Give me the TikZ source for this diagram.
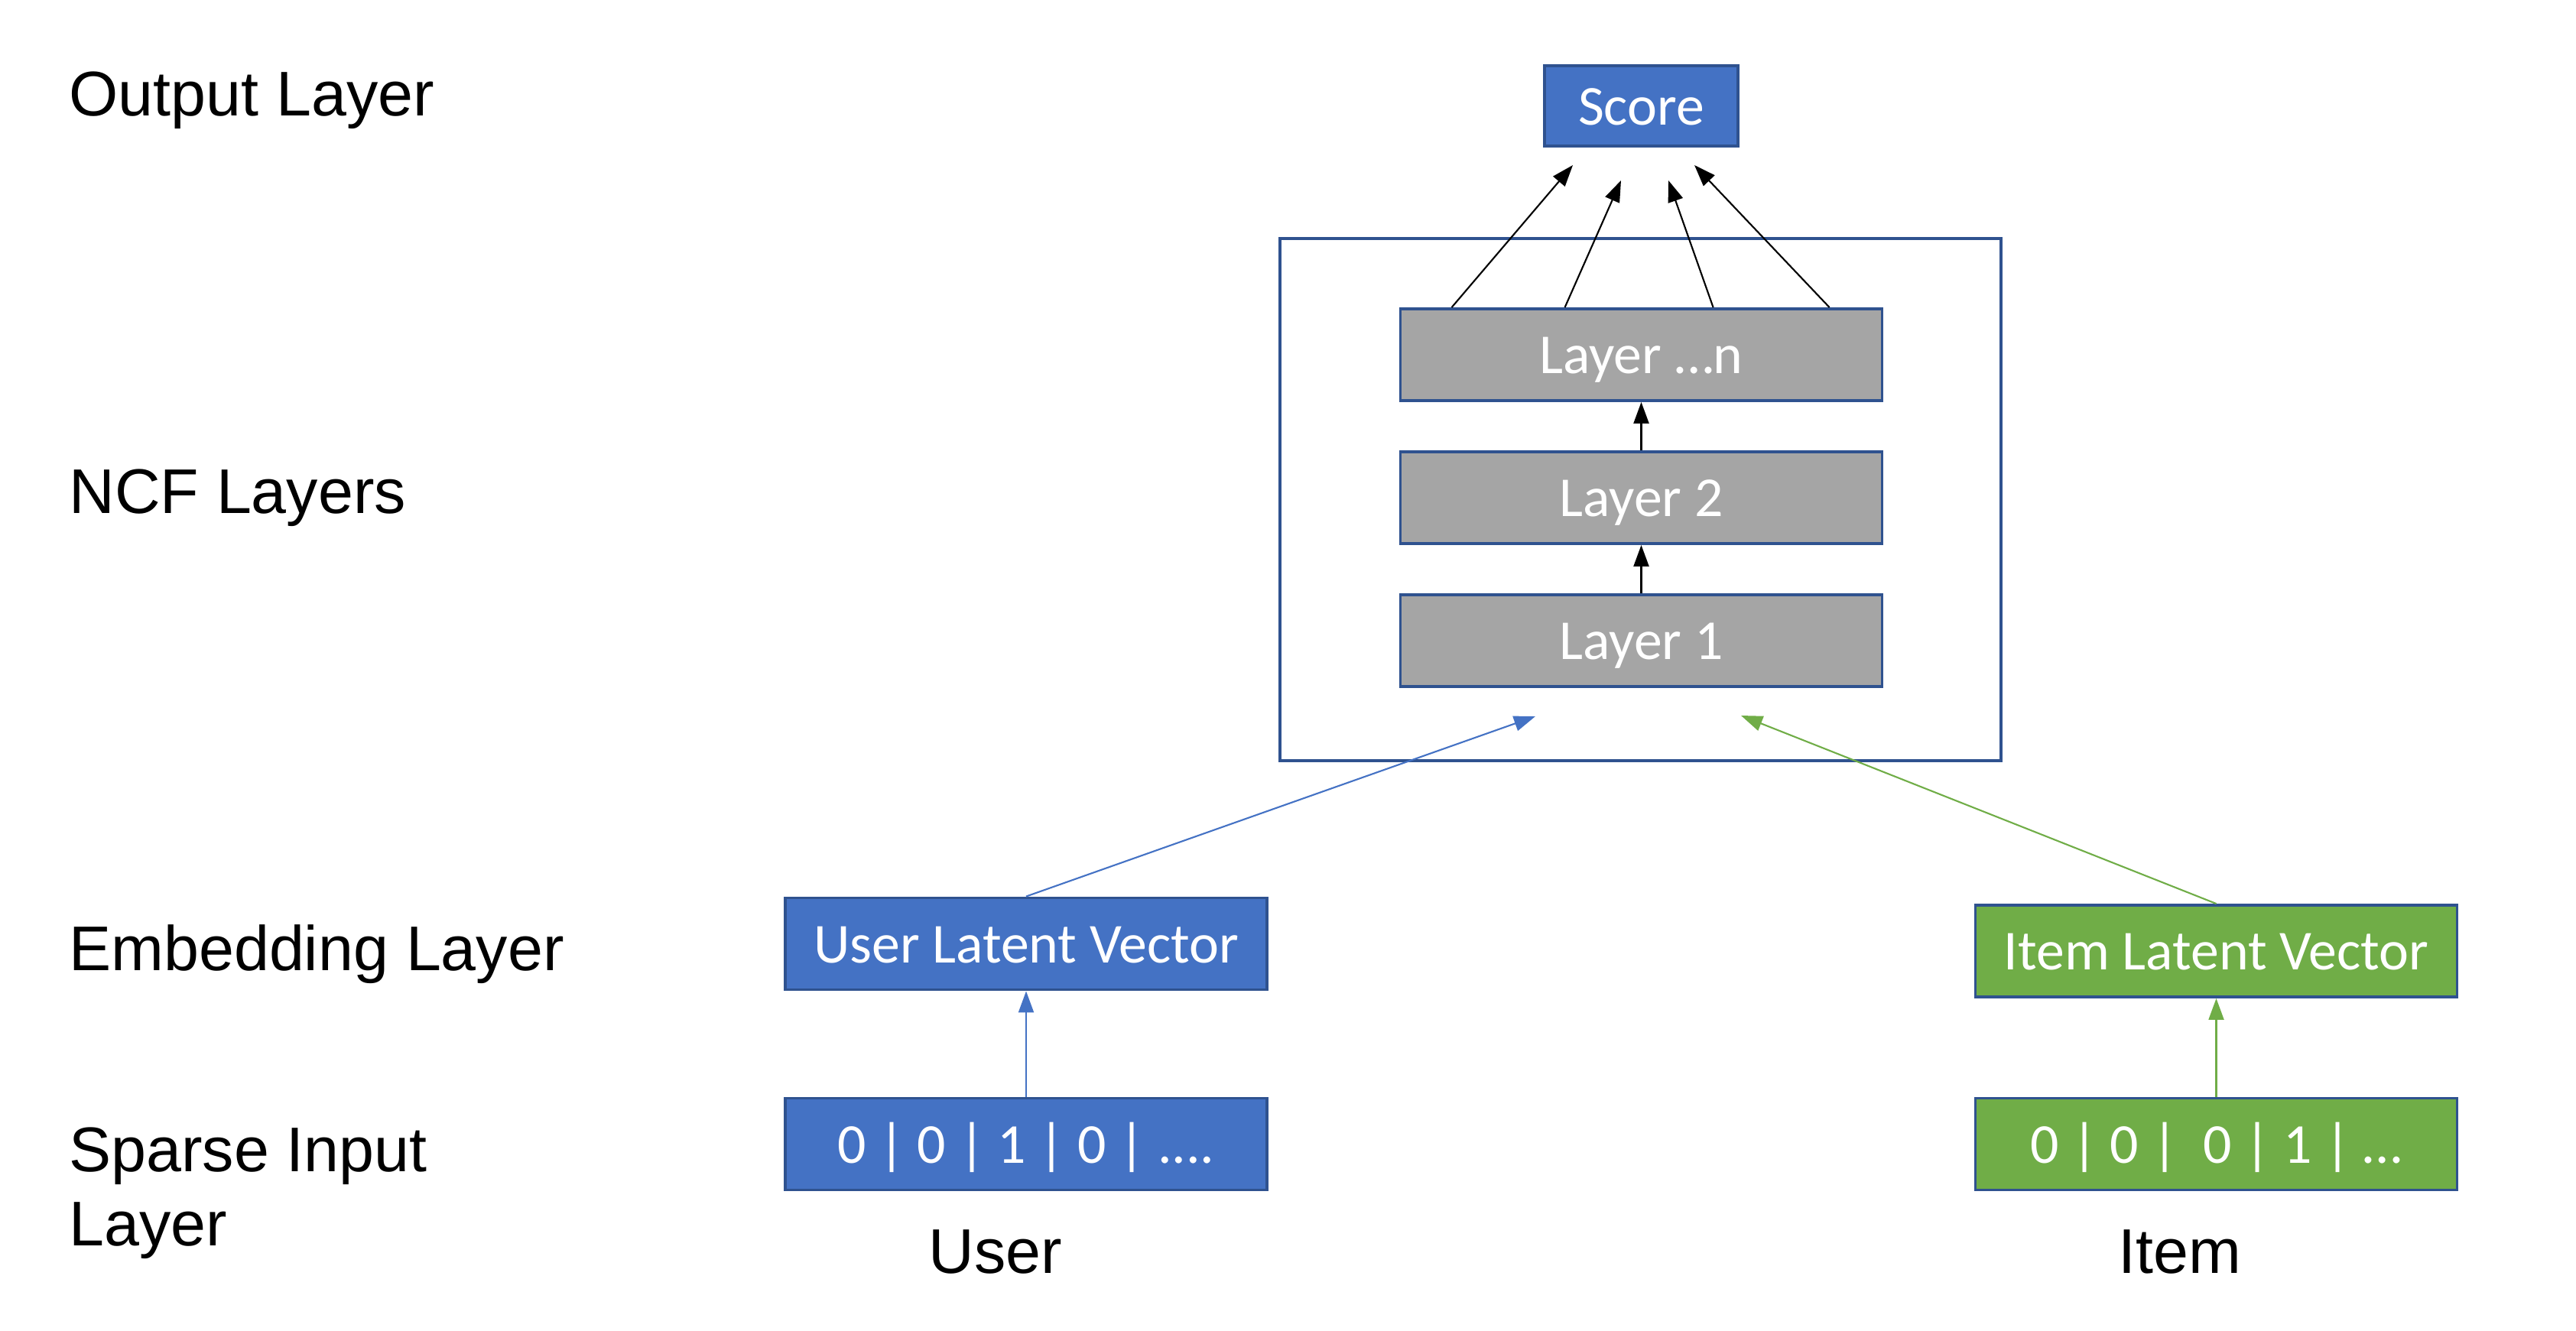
\documentclass[tikz,border=0pt]{standalone}
\usepackage{xcolor}
\usepackage{fontspec}
\usepackage{tikz}
\usetikzlibrary{arrows.meta, positioning}
\setmainfont{Liberation Sans}
\newfontfamily\boxfont{Carlito}
\definecolor{ncfblue}{HTML}{4472C4}
\definecolor{ncfborder}{HTML}{2F528F}
\definecolor{ncfgreen}{HTML}{70AD47}
\definecolor{ncfgray}{HTML}{A5A5A5}

\begin{document}
\begin{tikzpicture}[
  x=1cm, y=1cm,
  box/.style={draw=ncfborder, line width=1.1pt, minimum width=6.3cm, minimum height=1.2cm, text=white, font=\boxfont\fontsize{21}{25}\selectfont, text height=14.2pt, text depth=0pt, inner sep=0pt},
  rowlabel/.style={anchor=west, align=left, font=\fontsize{23.5}{27.6}\selectfont},
  arr/.style={-{Triangle[length=2.8mm,width=2mm]}, line width=0.6pt, black}
]
\useasboundingbox (0,0) rectangle (33.69,-17.41);

% row labels
\node[rowlabel] (tout) at (0.78,-1.31) {Output Layer};
\node[rowlabel] (tncf) at (0.78,-6.51) {NCF Layers};
\node[rowlabel] (temb) at (0.78,-12.48) {Embedding Layer};
\node[rowlabel] (tsparse) at (0.78,-15.61) {Sparse Input\\Layer};

% NCF block
\node[draw=ncfborder, line width=1.1pt, minimum width=9.43cm, minimum height=6.83cm] (ncf) at (21.455,-6.535) {};
\node[box, fill=ncfgray] (ln) at (21.465,-4.64) {Layer …n};
\node[box, fill=ncfgray] (l2) at (21.465,-6.51) {Layer 2};
\node[box, fill=ncfgray] (l1) at (21.465,-8.38) {Layer 1};
\node[box, fill=ncfblue, minimum width=2.53cm, minimum height=1.05cm] (score) at (21.465,-1.385) {Score};

% user / item towers
\node[box, fill=ncfblue] (uvec) at (13.42,-12.345) {User Latent Vector};
\node[box, fill=ncfblue] (uin) at (13.42,-14.965) {0 | 0 | 1 | 0 | ....};
\node[box, fill=ncfgreen] (ivec) at (28.985,-12.44) {Item Latent Vector};
\node[box, fill=ncfgreen] (iin) at (28.985,-14.965) {0 | 0 |\ \ 0 | 1 | …};
\node[font=\fontsize{23.5}{27.6}\selectfont] (ulab) at (13.02,-16.37) {User};
\node[font=\fontsize{23.5}{27.6}\selectfont] (ilab) at (28.51,-16.37) {Item};

% free ends
\coordinate (s1) at (20.57,-2.16);
\coordinate (s2) at (21.20,-2.36);
\coordinate (s3) at (21.82,-2.36);
\coordinate (s4) at (22.16,-2.16);
\coordinate (uend) at (20.08,-9.37);
\coordinate (iend) at (22.77,-9.36);

\draw[arr] (l1) -- (l2);
\draw[arr] (l2) -- (ln);
\draw[arr] (ln.north west) ++(0.69,0) -- (s1);
\draw[arr] (ln.north west) ++(2.17,0) -- (s2);
\draw[arr] (ln.north west) ++(4.11,0) -- (s3);
\draw[arr] (ln.north west) ++(5.63,0) -- (s4);
\draw[arr, ncfblue] (uin) -- (uvec);
\draw[arr, ncfgreen] (iin) -- (ivec);
\draw[arr, ncfblue] (uvec.north) -- (uend);
\draw[arr, ncfgreen] (ivec.north) -- (iend);
\end{tikzpicture}
\end{document}
